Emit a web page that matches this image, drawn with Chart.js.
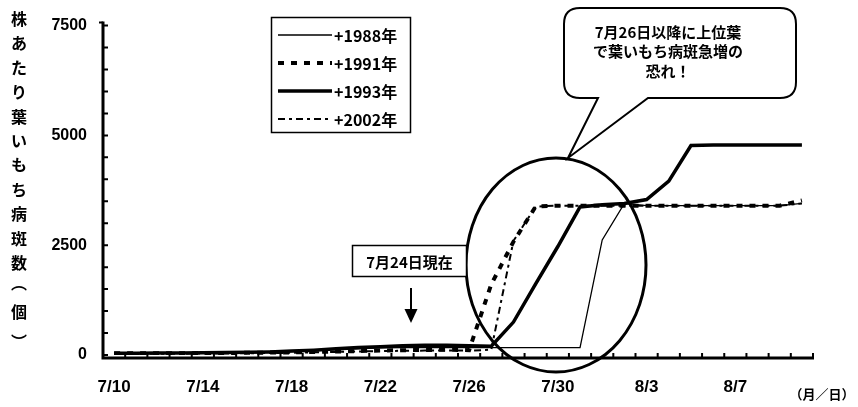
<!DOCTYPE html>
<html><head><meta charset="utf-8">
<script src="https://cdn.jsdelivr.net/npm/chart.js@4"></script>
<style>html,body{margin:0;padding:0;background:#fff}#wrap{width:858px;height:407px;position:relative}</style>
</head><body><div id="wrap"><canvas id="c" width="858" height="407"></canvas></div>
<script>
// ---- data ----
const dates = ['7/10','7/11','7/12','7/13','7/14','7/15','7/16','7/17','7/18','7/19','7/20','7/21','7/22','7/23','7/24','7/25','7/26','7/27','7/28','7/29','7/30','7/31','8/1','8/2','8/3','8/4','8/5','8/6','8/7','8/8','8/9','8/10'];
const xTickLabels = ['7/10','7/14','7/18','7/22','7/26','7/30','8/3','8/7'];
const yTickLabels = [0, 2500, 5000, 7500];
const seriesNames = ['+1988年','+1991年','+1993年','+2002年'];
const s1988 = [50,50,50,55,55,60,60,65,80,100,120,140,160,170,170,170,170,170,170,170,170,170,2620,3450,3400,3400,3400,3400,3400,3400,3400,3450];
const s1991 = [40,40,40,40,45,45,50,55,60,70,80,90,100,110,115,120,110,1610,2580,3380,3400,3400,3400,3400,3400,3400,3400,3400,3400,3400,3400,3520];
const s1993 = [40,40,45,45,50,55,60,70,90,110,140,170,190,210,220,220,210,200,750,1620,2470,3370,3420,3450,3540,3960,4770,4780,4780,4780,4780,4780];
const s2002 = [30,30,30,30,35,35,40,45,50,60,70,80,90,95,100,100,100,120,2600,3380,3400,3400,3400,3400,3400,3400,3400,3400,3400,3400,3400,3450];
const yTitleChars = ['株','あ','た','り','葉','い','も','ち','病','斑','数','︵','個','︶'];
const xUnitText = '（月／日）';
const calloutLines = ['7月26日以降に上位葉','で葉いもち病斑急増の','恐れ！'];
const nowText = '7月24日現在';

const JP = '"Noto Sans CJK JP", sans-serif';
const NUM = '"Liberation Sans", Arial, sans-serif';

const plugin = {
  id: 'deco',
  beforeDatasetsDraw(chart) {
    const {ctx, chartArea: a, scales: {x, y}} = chart;
    ctx.save();
    ctx.strokeStyle = '#000';
    ctx.fillStyle = '#000';
    const base = a.bottom + 3;
    // axes
    ctx.lineWidth = 3;
    ctx.beginPath();
    ctx.moveTo(a.left, a.top - 4); ctx.lineTo(a.left, base + 1.5);
    ctx.moveTo(a.left - 1.5, base); ctx.lineTo(a.right + 1, base);
    ctx.stroke();
    // y minor ticks (inside)
    ctx.lineWidth = 2;
    ctx.beginPath();
    y.ticks.forEach(t => {
      const py = y.getPixelForValue(t.value);
      ctx.moveTo(a.left, py); ctx.lineTo(a.left + 5, py);
    });
    ctx.moveTo(a.left, a.top - 3); ctx.lineTo(a.left - 4, a.top - 3);
    // x ticks at category boundaries (inside)
    for (let i = 0; i <= dates.length; i++) {
      const px = x.getPixelForValue(i - 0.5);
      ctx.moveTo(px, base); ctx.lineTo(px, base - 5);
    }
    ctx.stroke();
    ctx.restore();
  },
  afterDraw(chart) {
    const {ctx} = chart;
    ctx.save();
    ctx.fillStyle = '#000';
    ctx.strokeStyle = '#000';
    // y title vertical
    ctx.font = 'bold 16px ' + JP;
    ctx.textAlign = 'center';
    ctx.textBaseline = 'middle';
    yTitleChars.forEach((ch, i) => {
      let yy = 19 + i * 24.4;
      if (ch === '︵') yy -= 4;
      if (ch === '︶') yy += 6;
      ctx.fillText(ch, 19, yy);
    });
    // x unit
    ctx.font = 'bold 13px ' + JP;
    ctx.fillText(xUnitText, 822, 394);

    // legend box
    ctx.lineWidth = 1.5;
    ctx.strokeRect(271.5, 17.5, 139, 115);
    const rows = [35, 63, 91, 119];
    chart.data.datasets.forEach((ds, i) => {
      ctx.save();
      ctx.lineWidth = ds.borderWidth;
      ctx.setLineDash(ds.borderDash || []);
      ctx.beginPath();
      ctx.moveTo(278, rows[i]); ctx.lineTo(332, rows[i]);
      ctx.stroke();
      ctx.restore();
      ctx.font = 'bold 16px ' + JP;
      ctx.textAlign = 'left';
      ctx.fillText(ds.label, 334, rows[i] + 1);
    });

    // ellipse
    ctx.lineWidth = 3;
    ctx.beginPath();
    ctx.ellipse(556, 265, 90, 107, 0, 0, Math.PI * 2);
    ctx.stroke();

    // callout bubble
    const L = 564, T = 8, R = 796, B = 98, r = 16;
    ctx.lineWidth = 2;
    ctx.fillStyle = '#fff';
    ctx.beginPath();
    ctx.moveTo(L + r, T);
    ctx.lineTo(R - r, T); ctx.quadraticCurveTo(R, T, R, T + r);
    ctx.lineTo(R, B - r); ctx.quadraticCurveTo(R, B, R - r, B);
    ctx.lineTo(648, B);
    ctx.lineTo(568, 158);
    ctx.lineTo(598, B);
    ctx.lineTo(L + r, B); ctx.quadraticCurveTo(L, B, L, B - r);
    ctx.lineTo(L, T + r); ctx.quadraticCurveTo(L, T, L + r, T);
    ctx.closePath();
    ctx.fill(); ctx.stroke();
    ctx.fillStyle = '#000';
    ctx.font = 'bold 15px ' + JP;
    ctx.textAlign = 'center';
    calloutLines.forEach((t, i) => ctx.fillText(t, 668, 32 + i * 19.5));

    // "now" box + arrow
    ctx.lineWidth = 1.5;
    ctx.fillStyle = '#fff';
    ctx.fillRect(352, 245, 115, 32);
    ctx.strokeRect(352.5, 245.5, 114, 31);
    ctx.fillStyle = '#000';
    ctx.font = 'bold 15px ' + JP;
    ctx.fillText(nowText, 409.5, 262);
    ctx.lineWidth = 2;
    ctx.beginPath();
    ctx.moveTo(411, 288); ctx.lineTo(411, 312);
    ctx.stroke();
    ctx.beginPath();
    ctx.moveTo(404.5, 309); ctx.lineTo(417.5, 309); ctx.lineTo(411, 323); ctx.closePath();
    ctx.fill();
    ctx.restore();
  }
};

const mk = (label, data, w, dash) => ({
  label, data, borderColor: '#000', backgroundColor: '#000', borderWidth: w,
  borderDash: dash, pointRadius: 0, tension: 0, fill: false
});

new Chart(document.getElementById('c'), {
  type: 'line',
  data: {
    labels: dates,
    datasets: [
      mk(seriesNames[0], s1988, 1.3, []),
      mk(seriesNames[1], s1991, 4, [6, 7]),
      mk(seriesNames[2], s1993, 3.5, []),
      mk(seriesNames[3], s2002, 2, [7, 4, 3, 4])
    ]
  },
  options: {
    responsive: false,
    animation: false,
    devicePixelRatio: 1,
    layout: {padding: {left: 0, top: 20, right: 45, bottom: 0}},
    plugins: {legend: {display: false}, tooltip: {enabled: false}},
    scales: {
      x: {
        type: 'category',
        offset: true,
        grid: {display: false, drawTicks: false, offset: true},
        border: {display: false},
        afterFit: s => { s.height = 52; },
        ticks: {
          autoSkip: false, maxRotation: 0, padding: 22, color: '#000',
          font: {family: NUM, size: 17, weight: 'bold'},
          callback: (v, i) => xTickLabels.includes(dates[i]) ? dates[i] : ''
        }
      },
      y: {
        min: 0, max: 7500,
        grid: {display: false, drawTicks: false},
        border: {display: false},
        afterFit: s => { s.width = 103; },
        ticks: {
          autoSkip: false, stepSize: 500, padding: 16, color: '#000',
          font: {family: NUM, size: 16, weight: 'bold'},
          callback: v => yTickLabels.includes(v) ? String(v) : ''
        }
      }
    }
  },
  plugins: [plugin]
});
</script></body></html>
